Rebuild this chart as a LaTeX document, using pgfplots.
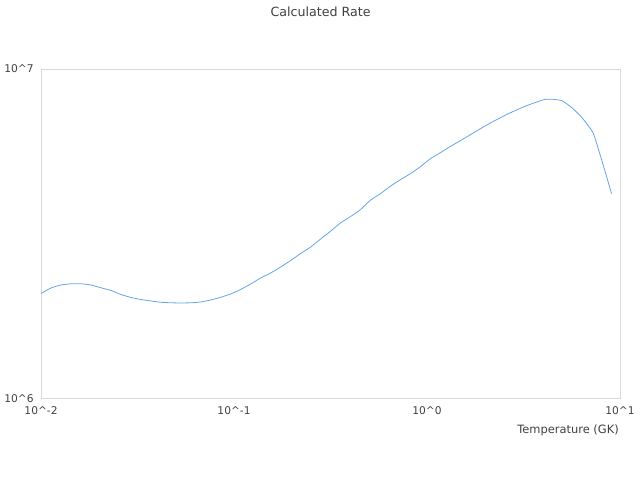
\documentclass[border=0pt]{standalone}
\usepackage{fontspec}
\setmainfont{DejaVu Sans}
\usepackage{pgfplots}
\pgfplotsset{compat=1.18}
\definecolor{linec}{RGB}{100,165,235}
\definecolor{boxc}{RGB}{217,217,217}
\definecolor{txtc}{RGB}{64,64,64}
\begin{document}
\begin{tikzpicture}
\begin{axis}[
  at={(0,0)}, anchor=south west,
  scale only axis, width=435pt, height=247.5pt,
  xmode=log, ymode=log,
  xmin=0.01, xmax=10, ymin=1e6, ymax=1e7,
  axis line style={boxc},
  tick style={draw=none},
  major tick length=0pt,
  xtick={0.01,0.1,1,10},
  xticklabels={10\textasciicircum-2,10\textasciicircum-1,10\textasciicircum0,10\textasciicircum1},
  ytick={1e6,1e7},
  yticklabels={10\textasciicircum6,10\textasciicircum7},
  minor xtick={}, minor ytick={},
  ticklabel style={font=\fontsize{8pt}{9.5pt}\selectfont, text=txtc},
  xticklabel style={yshift=-3pt},
  yticklabel style={xshift=-2pt},
  grid=none,
  clip=false,
]
\addplot[linec, line width=0.6pt, smooth, tension=0.3] coordinates {
(0.01,2.0808e6)
(0.011262,2.1622e6)
(0.012687,2.2080e6)
(0.014290,2.2266e6)
(0.016097,2.2266e6)
(0.018135,2.2080e6)
(0.020428,2.1652e6)
(0.023015,2.1248e6)
(0.025929,2.0663e6)
(0.029209,2.0235e6)
(0.032903,1.9953e6)
(0.037069,1.9745e6)
(0.041753,1.9567e6)
(0.047034,1.9498e6)
(0.052983,1.9471e6)
(0.059685,1.9498e6)
(0.067240,1.9608e6)
(0.075729,1.9884e6)
(0.085310,2.0263e6)
(0.096114,2.0736e6)
(0.10827,2.1397e6)
(0.12197,2.2235e6)
(0.13740,2.3185e6)
(0.15478,2.4008e6)
(0.17437,2.5035e6)
(0.19642,2.6196e6)
(0.22128,2.7505e6)
(0.24926,2.8780e6)
(0.28079,3.0433e6)
(0.31623,3.2137e6)
(0.35622,3.4075e6)
(0.40128,3.5608e6)
(0.45198,3.7389e6)
(0.50917,3.9948e6)
(0.57358,4.1800e6)
(0.64617,4.4046e6)
(0.72778,4.6090e6)
(0.81989,4.8064e6)
(0.92362,5.0468e6)
(1.0404,5.3367e6)
(1.1722,5.5648e6)
(1.3203,5.8148e6)
(1.4871,6.0509e6)
(1.6751,6.3096e6)
(1.8874,6.5793e6)
(2.1262,6.8461e6)
(2.3950,7.1040e6)
(2.6977,7.3564e6)
(3.0396,7.5910e6)
(3.4240,7.8058e6)
(3.8570,7.9989e6)
(4.0936,8.0832e6)
(4.5020,8.0832e6)
(5.0119,7.9989e6)
(5.6455,7.6177e6)
(6.3594,7.1040e6)
(7.2478,6.3983e6)
(7.8813,5.4876e6)
(8.4651,4.7730e6)
(9.0365,4.1800e6)
};
\end{axis}
\path[use as bounding box] (-30pt,-60.75pt) rectangle (450pt,299.25pt);
\node[text=txtc, font=\fontsize{9.5pt}{11pt}\selectfont] at (210pt,290.25pt) {Calculated Rate};
\node[text=txtc, font=\fontsize{8.6pt}{10pt}\selectfont, anchor=east, inner sep=0pt] at (434.25pt,-24pt) {Temperature (GK)};
\end{tikzpicture}
\end{document}
